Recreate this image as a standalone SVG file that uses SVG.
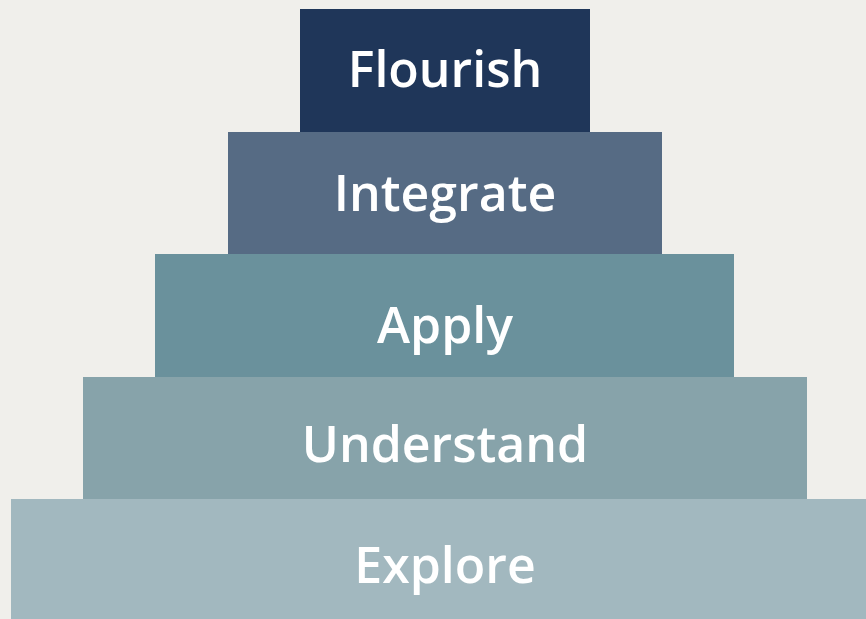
<svg xmlns="http://www.w3.org/2000/svg" width="866" height="619" viewBox="0 0 866 619">
<style>
.t{font-family:"Open Sans","Noto Sans",sans-serif;font-weight:600;font-size:50px;fill:#ffffff;text-anchor:middle}
</style>
<rect x="0" y="0" width="866" height="619" fill="#f0efeb"/>
<g id="flourish"><rect x="300" y="9" width="290" height="123" fill="#1f3659"/><text class="t" x="445" y="87">Flourish</text></g>
<g id="integrate"><rect x="228" y="132" width="434" height="122" fill="#566b84"/><text class="t" x="445" y="211">Integrate</text></g>
<g id="apply"><rect x="155" y="254" width="579" height="123" fill="#6a919c"/><text class="t" x="445" y="343">Apply</text></g>
<g id="understand"><rect x="83" y="377" width="724" height="122" fill="#87a3aa"/><text class="t" x="445" y="462">Understand</text></g>
<g id="explore"><rect x="11" y="499" width="855" height="120" fill="#a2b8bf"/><text class="t" x="445" y="583">Explore</text></g>
<g id="connectors"></g>
</svg>
